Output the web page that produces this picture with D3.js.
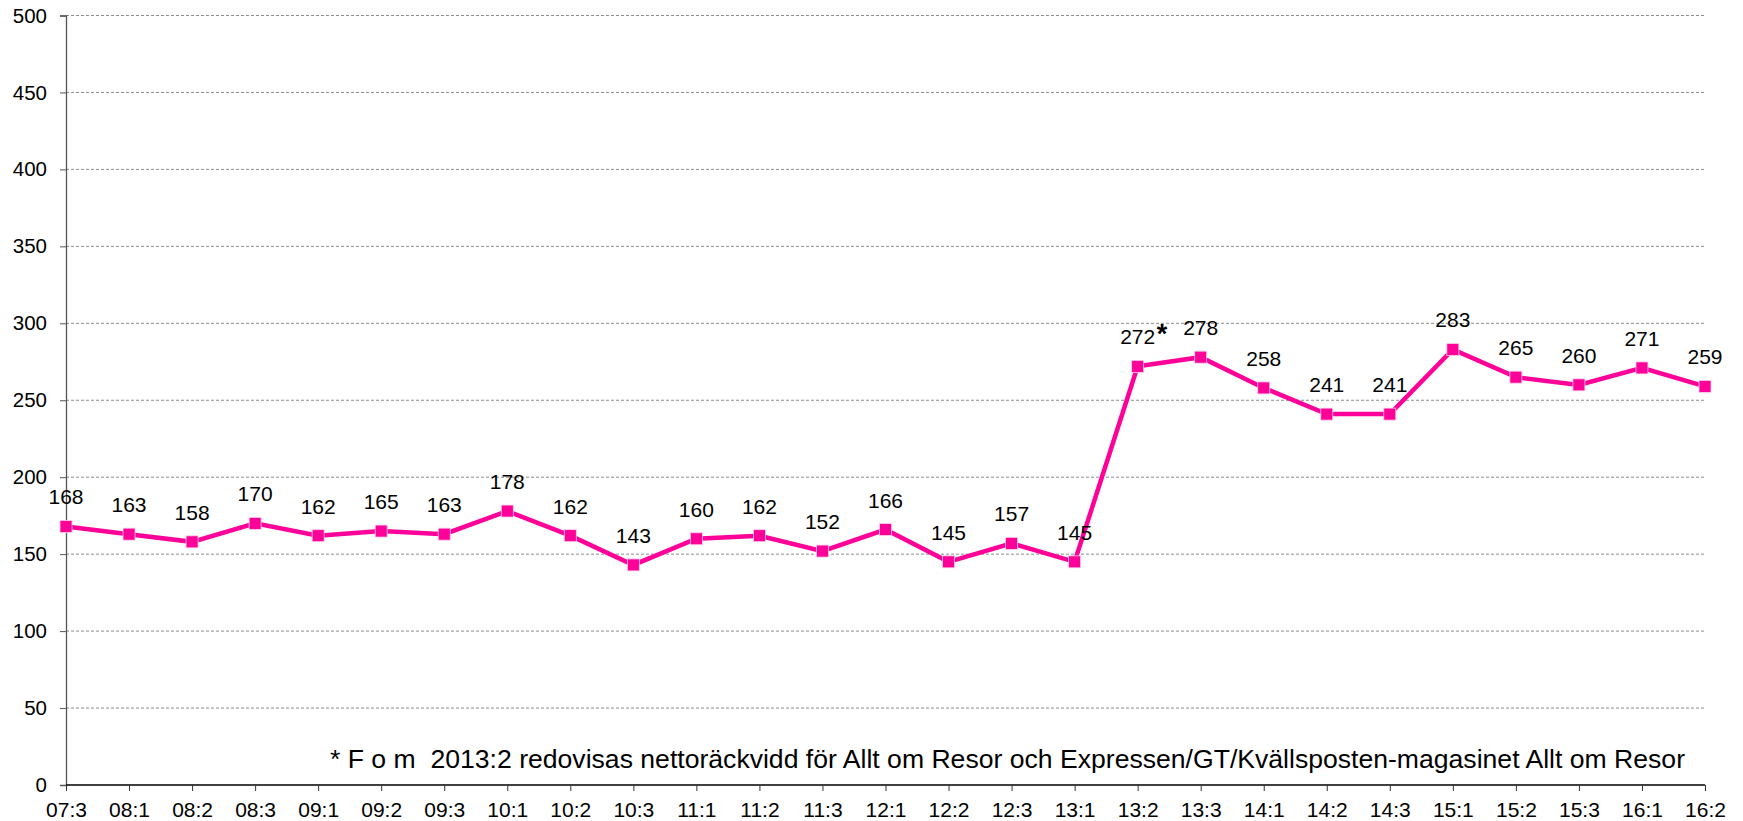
<!DOCTYPE html>
<html><head><meta charset="utf-8">
<script src="https://cdn.jsdelivr.net/npm/d3@7"></script>
<style>
html,body{margin:0;padding:0;background:#fff;}
svg{display:block;font-family:"Liberation Sans",Arial,sans-serif;}
</style></head>
<body>
<svg id="chart" width="1743" height="821"></svg>
<script>
const categories = ["07:3","08:1","08:2","08:3","09:1","09:2","09:3","10:1","10:2","10:3","11:1","11:2","11:3","12:1","12:2","12:3","13:1","13:2","13:3","14:1","14:2","14:3","15:1","15:2","15:3","16:1","16:2"];
const values = [168,163,158,170,162,165,163,178,162,143,160,162,152,166,145,157,145,272,278,258,241,241,283,265,260,271,259];
const yTicks = [0,50,100,150,200,250,300,350,400,450,500];
const starCategory = "13:2";
const note = "* F o m  2013:2 redovisas nettoräckvidd för Allt om Resor och Expressen/GT/Kvällsposten-magasinet Allt om Resor";

(function(){
const svg = d3.select("#chart");
const mLeft = 66, mRight = 1705, mTop = 15.5, mBottom = 785;
const x = d3.scalePoint().domain(categories).range([mLeft, mRight]);
const y = d3.scaleLinear().domain([0, 500]).range([mBottom, mTop]);
const color = "#ff0099";

// gridlines
svg.append("g").selectAll("line").data(yTicks.filter(d => d > 0)).join("line")
  .attr("x1", mLeft).attr("x2", mRight)
  .attr("y1", d => y(d)).attr("y2", d => y(d))
  .attr("stroke", "#8c8c8c").attr("stroke-width", 1).attr("stroke-dasharray", "3,2");

// y axis
const yAxis = svg.append("g").attr("transform", `translate(${mLeft},0)`)
  .call(d3.axisLeft(y).tickValues(yTicks).tickSize(6).tickPadding(13));
yAxis.select(".domain").attr("stroke", "#555").attr("stroke-width", 1.3);
yAxis.selectAll(".tick line").attr("stroke", "#555");
yAxis.selectAll("text").attr("font-size", 20.5).attr("fill", "#000")
  .attr("font-family", "Liberation Sans, Arial, sans-serif");

// x axis
const xAxis = svg.append("g").attr("transform", `translate(0,${mBottom})`)
  .call(d3.axisBottom(x).tickSize(6).tickPadding(11));
xAxis.select(".domain").attr("stroke", "#000").attr("stroke-width", 1.5)
  .attr("d", `M${mLeft},0H${mRight}`);
xAxis.selectAll(".tick line").attr("stroke", "#333");
xAxis.selectAll("text").attr("font-size", 21).attr("fill", "#000")
  .attr("font-family", "Liberation Sans, Arial, sans-serif");

// line
const line = d3.line().x((d, i) => x(categories[i])).y(d => y(d));
svg.append("path").datum(values).attr("d", line)
  .attr("fill", "none").attr("stroke", color).attr("stroke-width", 4.5).attr("stroke-linejoin", "miter");

// markers
const ms = 12;
svg.append("g").selectAll("rect").data(values).join("rect")
  .attr("x", (d, i) => x(categories[i]) - ms / 2)
  .attr("y", d => y(d) - ms / 2)
  .attr("width", ms).attr("height", ms)
  .attr("fill", color).attr("stroke", "#ffd0ea").attr("stroke-width", 0.8);

// labels
svg.append("g").selectAll("text").data(values).join("text")
  .attr("x", (d, i) => x(categories[i]))
  .attr("y", d => y(d) - 22)
  .attr("text-anchor", "middle").attr("font-size", 21).attr("fill", "#000")
  .text(d => d);

// star
const si = categories.indexOf(starCategory);
svg.append("text")
  .attr("x", x(starCategory) + 19).attr("y", y(values[si]) - 23)
  .attr("font-size", 27).attr("font-weight", "bold").attr("fill", "#000")
  .text("*");

// note
svg.append("text")
  .attr("x", 330).attr("y", 767.5)
  .attr("font-size", 26).attr("fill", "#000")
  .style("white-space", "pre")
  .attr("textLength", 1355).attr("lengthAdjust", "spacingAndGlyphs")
  .text(note);
})();
</script>
</body></html>
